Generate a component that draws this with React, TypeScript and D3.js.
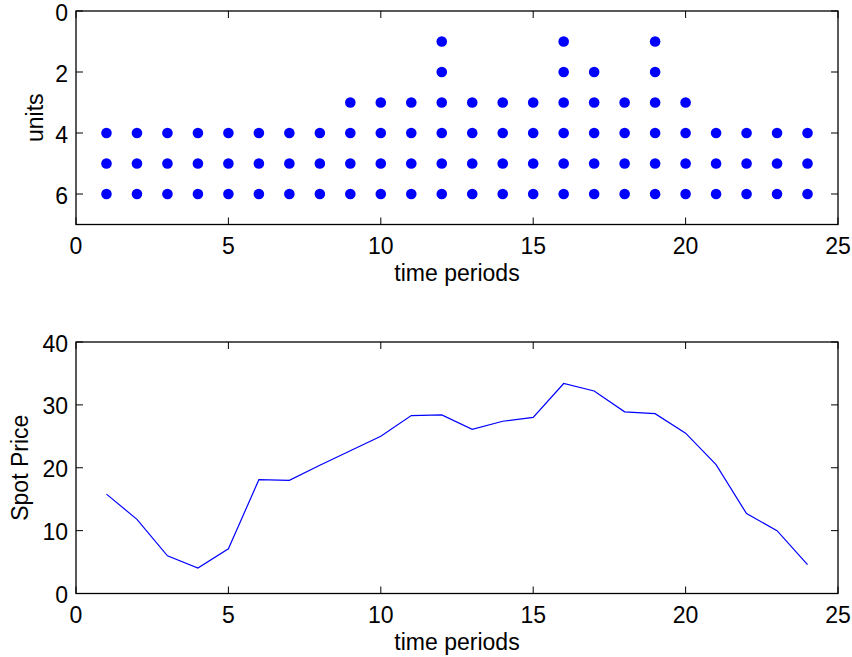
import React from "react";
import * as d3 from "d3";

const periods = d3.range(1, 25);
// units committed in each period (stacked dots)
const unitsOn: number[][] = [
  [4, 5, 6], [4, 5, 6], [4, 5, 6], [4, 5, 6], [4, 5, 6], [4, 5, 6], [4, 5, 6], [4, 5, 6],
  [3, 4, 5, 6], [3, 4, 5, 6], [3, 4, 5, 6],
  [1, 2, 3, 4, 5, 6],
  [3, 4, 5, 6], [3, 4, 5, 6], [3, 4, 5, 6],
  [1, 2, 3, 4, 5, 6],
  [2, 3, 4, 5, 6],
  [3, 4, 5, 6],
  [1, 2, 3, 4, 5, 6],
  [3, 4, 5, 6],
  [4, 5, 6], [4, 5, 6], [4, 5, 6], [4, 5, 6],
];
const spotPrice = [
  15.8, 11.8, 6.0, 4.05, 7.1, 18.1, 18.0, 20.4, 22.7, 25.0, 28.3, 28.4,
  26.1, 27.4, 28.0, 33.4, 32.2, 28.9, 28.6, 25.5, 20.5, 12.7, 10.0, 4.6,
];
const xTicks = [0, 5, 10, 15, 20, 25];
const unitTicks = [0, 2, 4, 6];
const priceTicks = [0, 10, 20, 30, 40];

const FONT = "'Liberation Sans', Arial, Helvetica, sans-serif";
const FS = 23;
const L = 76, R = 838;
const TICK = 7;

function Axes({ y0, y1, yScale, yTicks, ylabel, ylabelX }: any) {
  const x = d3.scaleLinear().domain([0, 25]).range([L, R]);
  return (
    <g>
      <rect x={L} y={y0} width={R - L} height={y1 - y0} fill="none" stroke="#000" strokeWidth={1.3} />
      {xTicks.map((t) => (
        <g key={"x" + t}>
          <line x1={x(t)} x2={x(t)} y1={y1} y2={y1 - TICK} stroke="#000" strokeWidth={1} />
          <line x1={x(t)} x2={x(t)} y1={y0} y2={y0 + TICK} stroke="#000" strokeWidth={1} />
          <text x={x(t)} y={y1 + 21} textAnchor="middle" dominantBaseline="central" fontSize={FS} fontFamily={FONT}>{t}</text>
        </g>
      ))}
      {yTicks.map((t: number) => (
        <g key={"y" + t}>
          <line x1={L} x2={L + TICK} y1={yScale(t)} y2={yScale(t)} stroke="#000" strokeWidth={1} />
          <line x1={R} x2={R - TICK} y1={yScale(t)} y2={yScale(t)} stroke="#000" strokeWidth={1} />
          <text x={L - 8} y={yScale(t) + 1.5} textAnchor="end" dominantBaseline="central" fontSize={FS} fontFamily={FONT}>{t}</text>
        </g>
      ))}
      <text x={(L + R) / 2} y={y1 + 48} textAnchor="middle" dominantBaseline="central" fontSize={FS} fontFamily={FONT}>time periods</text>
      <text transform={`translate(${ylabelX},${(y0 + y1) / 2}) rotate(-90)`} textAnchor="middle" dominantBaseline="central" fontSize={FS} fontFamily={FONT}>{ylabel}</text>
    </g>
  );
}

export default function App() {
  const x = d3.scaleLinear().domain([0, 25]).range([L, R]);
  const top0 = 11, top1 = 224.5;
  const bot0 = 342, bot1 = 593.5;
  const yU = d3.scaleLinear().domain([0, 7]).range([top0, top1]);
  const yP = d3.scaleLinear().domain([0, 40]).range([bot1, bot0]);
  const line = d3.line<number>().x((_, i) => x(periods[i])).y((d) => yP(d));
  return (
    <svg width={852} height={657} style={{ position: "absolute", left: 0, top: 0, background: "#fff" }}>
      <rect width={852} height={657} fill="#fff" />
      <Axes y0={top0} y1={top1} yScale={yU} yTicks={unitTicks} ylabel="units" ylabelX={35} />
      {unitsOn.map((us, i) =>
        us.map((u) => <circle key={i + "-" + u} cx={x(periods[i])} cy={yU(u)} r={5.3} fill="#0000ff" />)
      )}
      <Axes y0={bot0} y1={bot1} yScale={yP} yTicks={priceTicks} ylabel="Spot Price" ylabelX={20} />
      <path d={line(spotPrice) || ""} fill="none" stroke="#0000ff" strokeWidth={1.2} />
    </svg>
  );
}
